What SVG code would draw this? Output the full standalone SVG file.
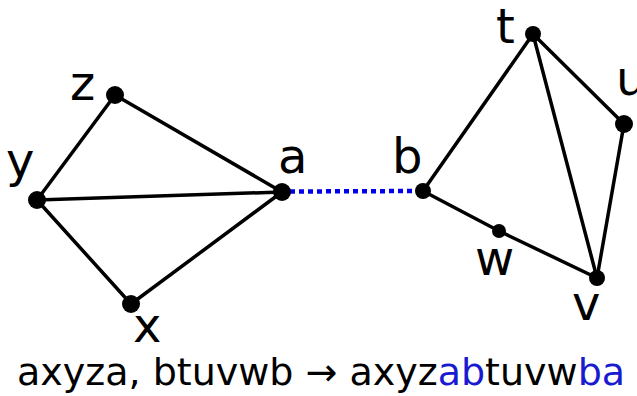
<svg xmlns="http://www.w3.org/2000/svg" width="637" height="396" viewBox="0 0 637 396">
<style>
.e{stroke:#000;stroke-width:3.5;fill:none;stroke-linecap:round}
.d{stroke:#0000ee;stroke-width:4.5;stroke-dasharray:5 4;fill:none}
.n{fill:#000}
.l{font-family:"DejaVu Sans",sans-serif;font-size:48px;fill:#000}
.cap{font-family:"DejaVu Sans",sans-serif;font-size:38px;fill:#000}
.b{fill:#1a1ad0}
</style>
<rect width="637" height="396" fill="#fff"/>
<g id="connectors">
<line class="e" x1="115" y1="95" x2="37" y2="200"/>
<line class="e" x1="115" y1="95" x2="282" y2="192"/>
<line class="e" x1="37" y1="200" x2="282" y2="192"/>
<line class="e" x1="37" y1="200" x2="131" y2="304"/>
<line class="e" x1="131" y1="304" x2="282" y2="192"/>
<line class="d" x1="290" y1="191.5" x2="420" y2="191"/>
<line class="e" x1="423" y1="191" x2="533" y2="34"/>
<line class="e" x1="533" y1="34" x2="624" y2="124"/>
<line class="e" x1="533" y1="34" x2="597" y2="278"/>
<line class="e" x1="624" y1="124" x2="597" y2="278"/>
<line class="e" x1="423" y1="191" x2="499" y2="231"/>
<line class="e" x1="499" y1="231" x2="597" y2="278"/>
</g>
<g id="z"><circle class="n" cx="115" cy="95" r="9"/><text class="l" x="70" y="100">z</text></g>
<g id="y"><circle class="n" cx="37" cy="200" r="9"/><text class="l" x="6" y="177">y</text></g>
<g id="a"><circle class="n" cx="282" cy="192" r="9"/><text class="l" x="278" y="173">a</text></g>
<g id="x"><circle class="n" cx="131" cy="304" r="9"/><text class="l" x="133" y="342">x</text></g>
<g id="b"><circle class="n" cx="423" cy="191" r="8"/><text class="l" x="392" y="173">b</text></g>
<g id="t"><circle class="n" cx="533" cy="34" r="8"/><text class="l" x="496" y="43">t</text></g>
<g id="u"><circle class="n" cx="624" cy="124" r="9"/><text class="l" x="616" y="95">u</text></g>
<g id="w"><circle class="n" cx="499" cy="231" r="7"/><text class="l" x="475" y="275">w</text></g>
<g id="v"><circle class="n" cx="597" cy="278" r="8"/><text class="l" x="572" y="320">v</text></g>
<text class="cap" x="17" y="385">axyza, btuvwb → axyz<tspan class="b">ab</tspan>tuvw<tspan class="b">ba</tspan></text>
</svg>
